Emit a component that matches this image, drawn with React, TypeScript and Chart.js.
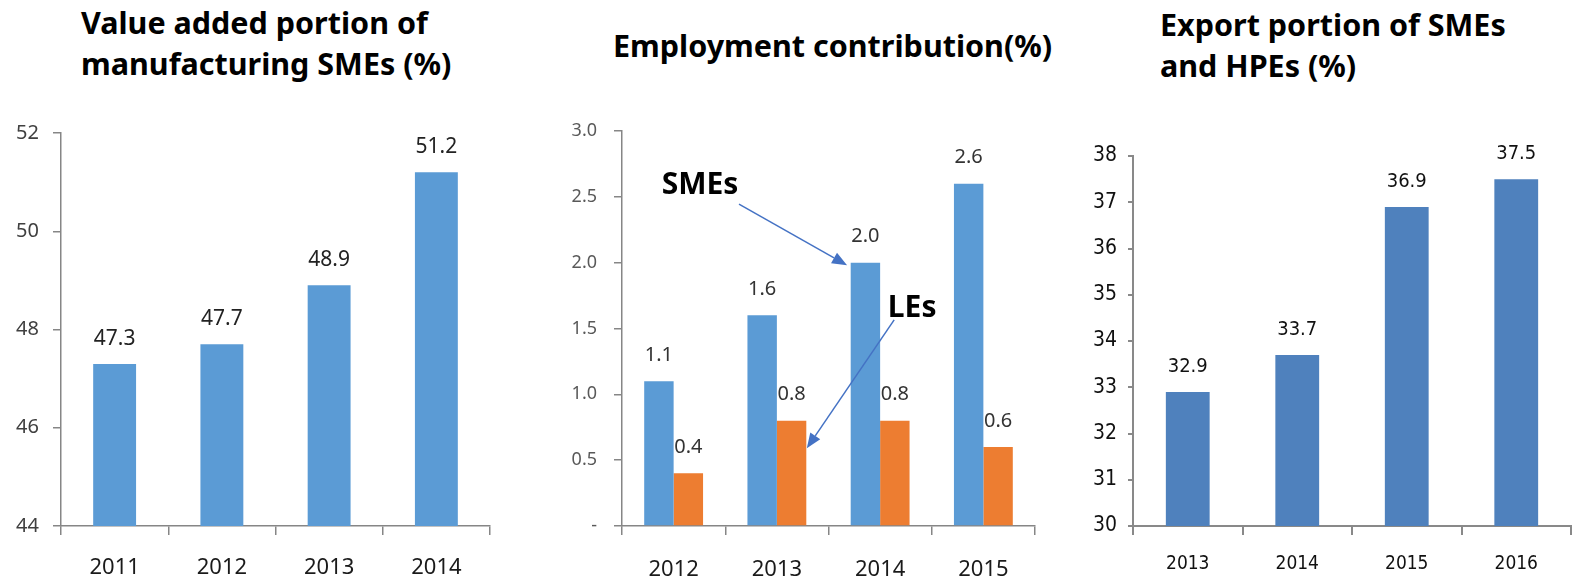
import React, { useEffect, useRef } from "react";
import { Chart, registerables } from "chart.js";

Chart.register(...registerables);

// ---------- data ----------
const vaYears = ["2011", "2012", "2013", "2014"];
const vaValues = [47.3, 47.7, 48.9, 51.2];

const empYears = ["2012", "2013", "2014", "2015"];
const empSMEs = [1.1, 1.6, 2.0, 2.6];
const empLEs = [0.4, 0.8, 0.8, 0.6];

const expYears = ["2013", "2014", "2015", "2016"];
const expValues = [32.9, 33.7, 36.9, 37.5];

const titleValueAdded = ["Value added portion of", "manufacturing SMEs (%)"];
const titleEmployment = ["Employment contribution(%)"];
const titleExport = ["Export portion of SMEs", "and HPEs (%)"];

// callouts in chart 2, in data coordinates: [category index, value]
const calloutNames = ["SMEs", "LEs"];
const calloutLabelAt = [[0.256, 2.59], [2.31, 1.656]];
const calloutFrom = [[0.633, 2.445], [2.136, 1.565]];
const calloutTo = [[1.68, 1.98], [1.29, 0.59]];

// ---------- helpers ----------
const SANS = '"Noto Sans", "Open Sans", sans-serif';
const NARROW = '"Liberation Sans Narrow", "DejaVu Sans Condensed", "Noto Sans", sans-serif';

function valueLabels(font: string, color: string, offset: number) {
  return {
    id: "valueLabels",
    afterDatasetsDraw(chart: any) {
      const ctx = chart.ctx;
      ctx.save();
      ctx.font = font;
      ctx.fillStyle = color;
      ctx.textAlign = "center";
      ctx.textBaseline = "middle";
      chart.data.datasets.forEach((ds: any, di: number) => {
        const meta = chart.getDatasetMeta(di);
        meta.data.forEach((el: any, i: number) => {
          ctx.fillText(Number(ds.data[i]).toFixed(1), el.x, el.y - offset);
        });
      });
      ctx.restore();
    },
  };
}

const calloutPlugin = {
  id: "callouts",
  afterDatasetsDraw(chart: any) {
    const ctx = chart.ctx;
    const xs = chart.scales.x;
    const ys = chart.scales.y;
    const px = (p: number[]) => [xs.getPixelForValue(p[0]), ys.getPixelForValue(p[1])];
    ctx.save();
    calloutNames.forEach((name, i) => {
      const [lx, ly] = px(calloutLabelAt[i]);
      ctx.font = `bold 30px ${SANS}`;
      ctx.fillStyle = "#000";
      ctx.textAlign = "center";
      ctx.textBaseline = "middle";
      ctx.fillText(name, lx, ly);
      const [x1, y1] = px(calloutFrom[i]);
      const [x2, y2] = px(calloutTo[i]);
      const ang = Math.atan2(y2 - y1, x2 - x1);
      const head = 15;
      const half = 6;
      const bx = x2 - head * Math.cos(ang);
      const by = y2 - head * Math.sin(ang);
      ctx.strokeStyle = "#4472C4";
      ctx.fillStyle = "#4472C4";
      ctx.lineWidth = 1.5;
      ctx.beginPath();
      ctx.moveTo(x1, y1);
      ctx.lineTo(bx, by);
      ctx.stroke();
      ctx.beginPath();
      ctx.moveTo(x2, y2);
      ctx.lineTo(bx + half * Math.sin(ang), by - half * Math.cos(ang));
      ctx.lineTo(bx - half * Math.sin(ang), by + half * Math.cos(ang));
      ctx.closePath();
      ctx.fill();
    });
    ctx.restore();
  },
};

function scales(o: any) {
  return {
    x: {
      grid: {
        display: true,
        drawOnChartArea: false,
        drawTicks: true,
        tickLength: o.xTickLen,
        color: o.axisColor,
        lineWidth: o.axisWidth,
        offset: true,
      },
      border: { display: true, color: o.axisColor, width: o.axisWidth },
      ticks: { font: o.xFont, color: o.xColor, padding: o.xPad, maxRotation: 0, autoSkip: false },
      afterFit: (s: any) => {
        s.height = o.xHeight;
      },
    },
    y: {
      min: o.yMin,
      max: o.yMax,
      grid: {
        display: true,
        drawOnChartArea: false,
        drawTicks: true,
        tickLength: o.yTickLen,
        color: o.axisColor,
        lineWidth: o.axisWidth,
      },
      border: { display: true, color: o.axisColor, width: o.axisWidth },
      ticks: {
        stepSize: o.step,
        font: o.yFont,
        color: o.yColor,
        padding: o.yPad,
        callback: o.yFormat,
      },
      afterFit: (s: any) => {
        s.width = o.yWidth;
      },
    },
  };
}

function ChartBox(props: { left: number; top: number; width: number; height: number; make: () => any }) {
  const ref = useRef<HTMLCanvasElement | null>(null);
  useEffect(() => {
    if (!ref.current) return;
    const chart = new Chart(ref.current, props.make());
    return () => chart.destroy();
  }, []);
  return (
    <canvas
      ref={ref}
      width={props.width}
      height={props.height}
      style={{ position: "absolute", left: props.left, top: props.top, width: props.width, height: props.height }}
    />
  );
}

const baseOptions = {
  responsive: false,
  animation: false,
  plugins: { legend: { display: false }, tooltip: { enabled: false }, title: { display: false } },
};

function makeValueAdded() {
  return {
    type: "bar",
    data: {
      labels: vaYears,
      datasets: [
        { data: vaValues, backgroundColor: "#5B9BD5", categoryPercentage: 0.4, barPercentage: 1 },
      ],
    },
    options: {
      ...baseOptions,
      layout: { padding: { left: 0, right: 10, top: 33, bottom: 0 } },
      scales: scales({
        yMin: 44, yMax: 52, step: 2, yWidth: 61, xHeight: 55,
        yTickLen: 8, yPad: 14, xTickLen: 9, xPad: 20,
        yFont: { family: SANS, size: 20 }, xFont: { family: SANS, size: 22 },
        yColor: "#404040", xColor: "#1a1a1a", axisColor: "#868686", axisWidth: 1.5,
        yFormat: (v: any) => String(v),
      }),
    },
    plugins: [valueLabels(`21px ${SANS}`, "#222", 25)],
  };
}

function makeEmployment() {
  return {
    type: "bar",
    data: {
      labels: empYears,
      datasets: [
        { label: "SMEs", data: empSMEs, backgroundColor: "#5B9BD5", categoryPercentage: 0.57, barPercentage: 1 },
        { label: "LEs", data: empLEs, backgroundColor: "#ED7D31", categoryPercentage: 0.57, barPercentage: 1 },
      ],
    },
    options: {
      ...baseOptions,
      layout: { padding: { left: 0, right: 5, top: 31, bottom: 0 } },
      scales: scales({
        yMin: 0, yMax: 3, step: 0.5, yWidth: 92, xHeight: 55,
        yTickLen: 8, yPad: 17, xTickLen: 9, xPad: 22,
        yFont: { family: SANS, size: 18 }, xFont: { family: SANS, size: 22 },
        yColor: "#595959", xColor: "#1a1a1a", axisColor: "#868686", axisWidth: 1.5,
        yFormat: (v: any) => (Number(v) === 0 ? "-" : Number(v).toFixed(1)),
      }),
    },
    plugins: [valueLabels(`20px ${SANS}`, "#333", 26), calloutPlugin],
  };
}

function makeExport() {
  return {
    type: "bar",
    data: {
      labels: expYears,
      datasets: [
        { data: expValues, backgroundColor: "#4F81BD", categoryPercentage: 0.4, barPercentage: 1 },
      ],
    },
    options: {
      ...baseOptions,
      layout: { padding: { left: 0, right: 25, top: 36, bottom: 0 } },
      scales: scales({
        yMin: 30, yMax: 38, step: 1, yWidth: 73, xHeight: 55,
        yTickLen: 5, yPad: 11, xTickLen: 9, xPad: 18,
        yFont: { family: NARROW, size: 21 }, xFont: { family: NARROW, size: 19 },
        yColor: "#111", xColor: "#111", axisColor: "#898989", axisWidth: 2,
        yFormat: (v: any) => String(v),
      }),
    },
    plugins: [valueLabels(`20px ${NARROW}`, "#111", 25)],
  };
}

function Title(props: { lines: string[]; left: number; top: number }) {
  return (
    <div
      style={{
        position: "absolute",
        left: props.left,
        top: props.top,
        fontFamily: SANS,
        fontWeight: 700,
        fontSize: 30.5,
        lineHeight: "41px",
        color: "#000",
        whiteSpace: "nowrap",
      }}
    >
      {props.lines.map((l, i) => (
        <div key={i}>{l}</div>
      ))}
    </div>
  );
}

export default function App() {
  return (
    <div style={{ position: "absolute", left: 0, top: 0, width: 1596, height: 581, background: "#fff", overflow: "hidden" }}>
      <Title lines={titleValueAdded} left={81} top={2} />
      <Title lines={titleEmployment} left={613} top={25} />
      <Title lines={titleExport} left={1160} top={4} />
      <ChartBox left={0} top={100} width={500} height={481} make={makeValueAdded} />
      <ChartBox left={530} top={100} width={510} height={481} make={makeEmployment} />
      <ChartBox left={1060} top={120} width={536} height={461} make={makeExport} />
    </div>
  );
}
